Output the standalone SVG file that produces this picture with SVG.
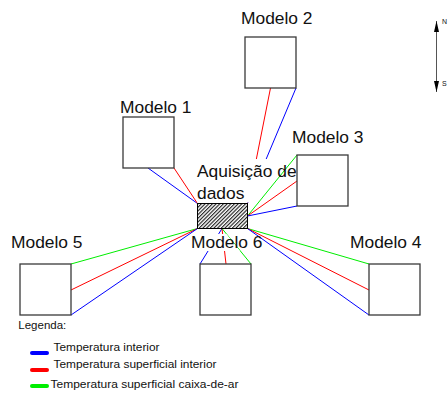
<svg xmlns="http://www.w3.org/2000/svg" width="448" height="394" viewBox="0 0 448 394">
<style>
.box{fill:#fff;stroke:#3a3a3a;stroke-width:1.3}
.lbl{font-family:"Liberation Sans",Arial,sans-serif;font-size:17.4px;fill:#111}
.leg{font-family:"Liberation Sans",Arial,sans-serif;font-size:10.5px;fill:#111}
.cmp{font-family:"Liberation Sans",Arial,sans-serif;font-size:7px;fill:#111}
.b{stroke:#0000ff;stroke-width:1;fill:none}
.r{stroke:#ff0000;stroke-width:1;fill:none}
.g{stroke:#00ee00;stroke-width:1;fill:none}
.bar{stroke-width:4;stroke-linecap:round}
</style>
<defs>
<pattern id="hatch" patternUnits="userSpaceOnUse" width="2.6" height="2.6" patternTransform="rotate(45)">
<rect width="2.6" height="2.6" fill="#fff"/>
<line x1="0.6" y1="0" x2="0.6" y2="2.6" stroke="#000" stroke-width="1"/>
</pattern>
<marker id="arr" markerUnits="userSpaceOnUse" markerWidth="11" markerHeight="5" refX="11" refY="2.5" orient="auto-start-reverse" viewBox="0 0 11 5">
<path d="M0,0 L11,2.5 L0,5 z" fill="#000"/>
</marker>
</defs>
<rect width="448" height="394" fill="#fff"/>
<g id="connectors">
<line class="b" x1="148" y1="168" x2="197.5" y2="203.5"/>
<line class="r" x1="174" y1="168" x2="197.5" y2="203.5"/>
<line class="r" x1="270.5" y1="88" x2="247.5" y2="203.5"/>
<line class="b" x1="296" y1="88" x2="247.5" y2="203.5"/>
<line class="g" x1="297" y1="155" x2="247.5" y2="216"/>
<line class="r" x1="297" y1="181" x2="247.5" y2="216"/>
<line class="b" x1="297" y1="206" x2="247.5" y2="216"/>
<line class="g" x1="71" y1="264" x2="197.5" y2="228.5"/>
<line class="r" x1="71" y1="290" x2="197.5" y2="228.5"/>
<line class="b" x1="71" y1="315" x2="197.5" y2="228.5"/>
<line class="b" x1="200" y1="264" x2="222" y2="228.5"/>
<line class="r" x1="226" y1="264" x2="222" y2="228.5"/>
<line class="g" x1="251" y1="264" x2="222" y2="228.5"/>
<line class="g" x1="369" y1="264" x2="247.5" y2="228.5"/>
<line class="r" x1="369" y1="290" x2="247.5" y2="228.5"/>
<line class="b" x1="369" y1="315" x2="247.5" y2="228.5"/>
</g>
<g id="aquisicao">
<polygon points="197,159 290,159 256,202.5 197,202.5" fill="#fff"/>
<rect x="197.5" y="203.5" width="50" height="25" fill="url(#hatch)" stroke="#000" stroke-width="1"/>
<text class="lbl" x="197" y="177">Aquisição de</text>
<text class="lbl" x="197" y="199">dados</text>
</g>
<g id="modelo1">
<rect class="box" x="123" y="117" width="51" height="51"/>
<text class="lbl" x="120" y="113">Modelo 1</text>
</g>
<g id="modelo2">
<rect class="box" x="245" y="37" width="51" height="51"/>
<text class="lbl" x="241" y="24">Modelo 2</text>
</g>
<g id="modelo3">
<rect class="box" x="297" y="155" width="51" height="51"/>
<text class="lbl" x="292" y="143">Modelo 3</text>
</g>
<g id="modelo5">
<rect class="box" x="20" y="264" width="51" height="51"/>
<text class="lbl" x="11" y="248">Modelo 5</text>
</g>
<g id="modelo6">
<polygon points="191,234 226.5,234 240,251 191,251" fill="#fff"/>
<rect class="box" x="200" y="264" width="51" height="51"/>
<text class="lbl" x="191" y="248">Modelo 6</text>
</g>
<g id="modelo4">
<rect class="box" x="369" y="264" width="51" height="51"/>
<text class="lbl" x="350" y="248">Modelo 4</text>
</g>
<g id="compass">
<line x1="436.5" y1="21" x2="436.5" y2="92" stroke="#555" stroke-width="1" marker-start="url(#arr)" marker-end="url(#arr)"/>
<text class="cmp" x="442" y="24">N</text>
<text class="cmp" x="442" y="85.5">S</text>
</g>
<g id="legend">
<text class="leg" x="18.3" y="329" textLength="48" lengthAdjust="spacingAndGlyphs">Legenda:</text>
<line class="bar" x1="32" y1="353" x2="47" y2="353" stroke="#0000ff"/>
<line class="bar" x1="32" y1="370" x2="47" y2="370" stroke="#ff0000"/>
<line class="bar" x1="32" y1="386" x2="47" y2="386" stroke="#00ee00"/>
<text class="leg" x="53.5" y="351" textLength="106" lengthAdjust="spacingAndGlyphs">Temperatura interior</text>
<text class="leg" x="53.5" y="368" textLength="163" lengthAdjust="spacingAndGlyphs">Temperatura superficial interior</text>
<text class="leg" x="50.5" y="387.5" textLength="188" lengthAdjust="spacingAndGlyphs">Temperatura superficial caixa-de-ar</text>
</g>
</svg>
